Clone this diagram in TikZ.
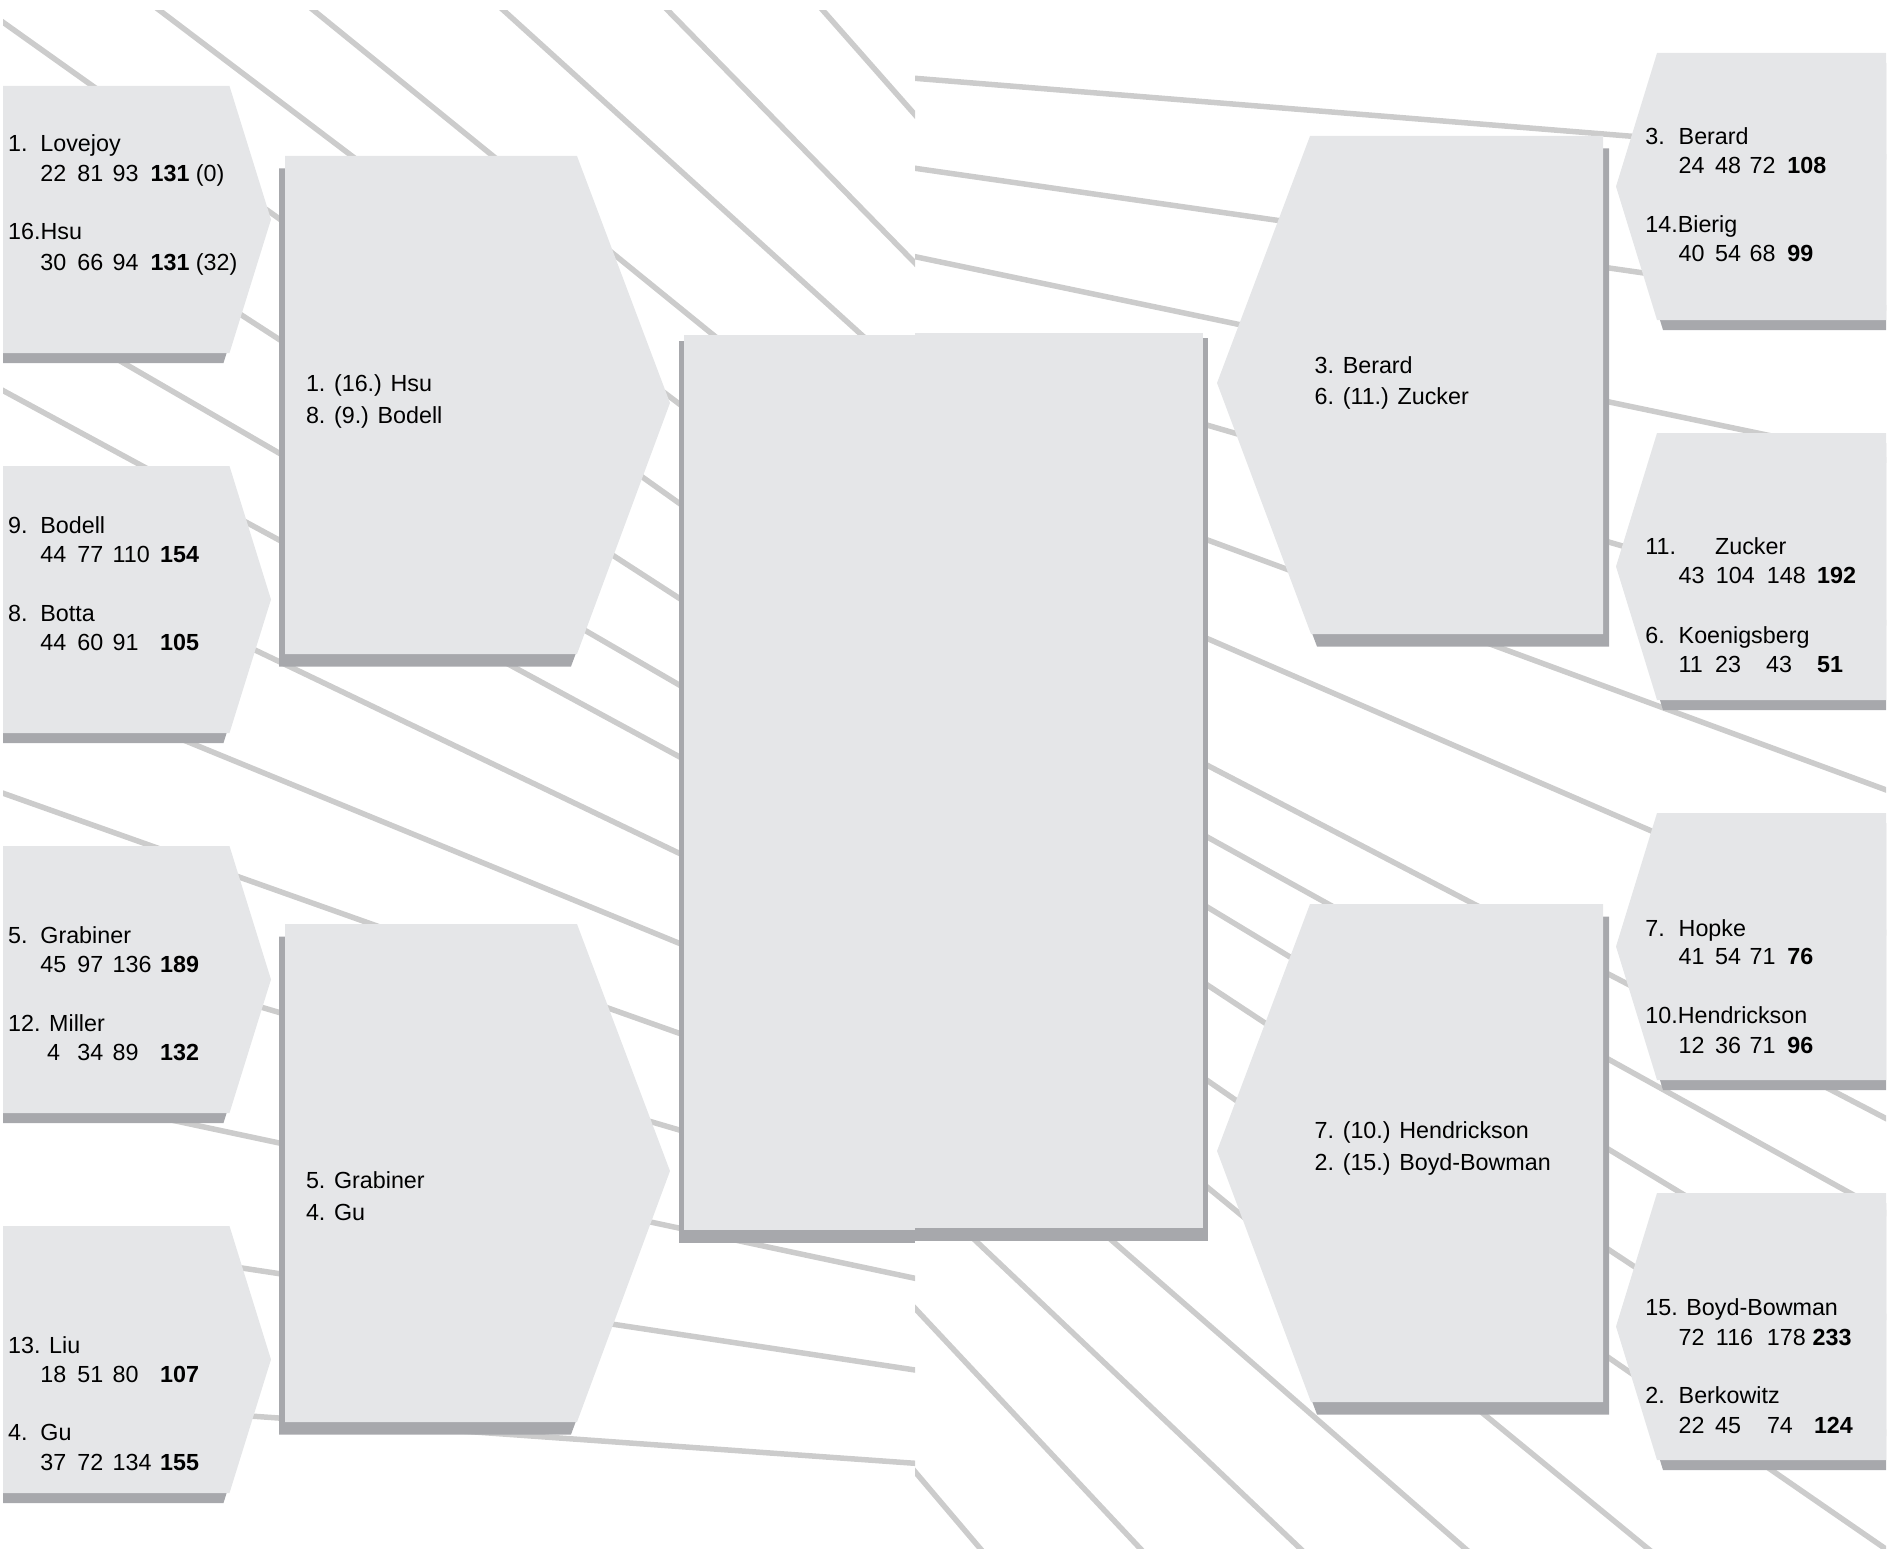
\documentclass[tikz,border=0pt]{standalone}
\usepackage{fontspec}
\setmainfont{Liberation Sans}
\definecolor{boxgray}{RGB}{229,230,232}
\definecolor{shadegray}{RGB}{167,168,172}
\definecolor{linegray}{RGB}{204,204,204}
\newcommand{\scol}[2]{\makebox[#1pt][l]{#2}}

\begin{document}
\begin{tikzpicture}[x=1pt,y=-1pt,
		bgline/.style={draw=linegray,line width=5.5pt,shorten <=-1200pt,shorten >=-1200pt},
		txt/.style={anchor=base west,inner sep=0pt,font=\fontsize{23.3}{31.7}\selectfont}]
	\useasboundingbox (0,0) rectangle (1896,1549);
	\clip (3,11) rectangle (1886,1549);
	% background stripes, left half
	\begin{scope}
		\clip (0,0) rectangle (915.2,1549);
		\draw[bgline] (3.1,22.3) -- (679.3,503.3);
		\draw[bgline] (160.7,11.2) -- (679.3,404);
		\draw[bgline] (314.7,11.2) -- (713.3,335);
		\draw[bgline] (504.5,11.2) -- (861.7,335);
		\draw[bgline] (669.1,11.7) -- (915.2,263.3);
		\draw[bgline] (824.1,11.7) -- (915.2,115);
		\draw[bgline] (241,314.7) -- (679.3,598.3);
		\draw[bgline] (122.8,362.5) -- (679.3,685);
		\draw[bgline] (3.1,390.6) -- (679.3,756.7);
		\draw[bgline] (255,650) -- (679.3,853.3);
		\draw[bgline] (190,742.7) -- (679.3,943.3);
		\draw[bgline] (3.3,793.3) -- (679.3,1033.3);
		\draw[bgline] (263.4,1007.8) -- (679.3,1130);
		\draw[bgline] (183,1122.5) -- (915,1278.3);
		\draw[bgline] (243.3,1268.2) -- (915,1370);
		\draw[bgline] (254.5,1416.3) -- (915,1463.3);
	\end{scope}
	% background stripes, right half
	\begin{scope}
		\clip (915.2,0) rectangle (1896,1549);
		\draw[bgline] (915,78.3) -- (1632,136.3);
		\draw[bgline] (915.2,168.3) -- (1608.3,267.9);
		\draw[bgline] (915.2,256.7) -- (1608.3,401.8);
		\draw[bgline] (1206.8,425) -- (1628.3,547.7);
		\draw[bgline] (1208.9,540.5) -- (1885.8,789.8);
		\draw[bgline] (1206.7,638.3) -- (1652.7,831.5);
		\draw[bgline] (1206.7,765) -- (1885.8,1118.4);
		\draw[bgline] (1206.7,836.7) -- (1843.6,1189.5);
		\draw[bgline] (1206.7,906.7) -- (1679.3,1192);
		\draw[bgline] (1208.9,986) -- (1632.7,1265.5);
		\draw[bgline] (1208.9,1081.6) -- (1885.8,1549);
		\draw[bgline] (1206.7,1186.7) -- (1648.3,1549);
		\draw[bgline] (1113.3,1241.7) -- (1400,1491.7);
		\draw[bgline] (976.7,1241.7) -- (1300,1548.3);
		\draw[bgline] (915,1308.3) -- (1140,1548.3);
		\draw[bgline] (915,1471.7) -- (980,1548.3);
	\end{scope}
	% first round boxes
	\foreach \t in {86,466,846,1226} {
		\fill[shadegray] (-10,\t+10) -- (223.5,\t+10) -- (265,\t+143.5) -- (223.5,\t+277) -- (-10,\t+277) -- cycle;
		\fill[boxgray] (-10,\t) -- (229.5,\t) -- (271,\t+133.5) -- (229.5,\t+267) -- (-10,\t+267) -- cycle;
	}
	\foreach \t in {53,433,813,1193} {
		\fill[shadegray] (1663,\t+10) -- (1622,\t+143.5) -- (1663,\t+277) -- (1900,\t+277) -- (1900,\t+10) -- cycle;
		\fill[boxgray] (1657,\t) -- (1616,\t+133.5) -- (1657,\t+267) -- (1900,\t+267) -- (1900,\t) -- cycle;
	}
	% second round boxes
	\foreach \t in {156,924} {
		\fill[shadegray] (279,\t+12.5) -- (571,\t+12.5) -- (664,\t+259.5) -- (571,\t+510.5) -- (279,\t+510.5) -- cycle;
		\fill[boxgray] (285,\t) -- (577,\t) -- (670,\t+247) -- (577,\t+498) -- (285,\t+498) -- cycle;
	}
	\foreach \t in {136,904} {
		\fill[shadegray] (1316,\t+12.5) -- (1609,\t+12.5) -- (1609,\t+510.5) -- (1317,\t+510.5) -- (1223,\t+259.5) -- cycle;
		\fill[boxgray] (1310,\t) -- (1603,\t) -- (1603,\t+498) -- (1311,\t+498) -- (1217,\t+247) -- cycle;
	}
	% final box, two halves
	\fill[shadegray] (679,341) rectangle (915.2,1243.3);
	\fill[boxgray] (684,335) rectangle (915.2,1230);
	\fill[shadegray] (915.2,338) rectangle (1207.7,1241);
	\fill[boxgray] (915.2,332.7) rectangle (1203,1228.3);
	% left entries
	\node[txt] (lov) at (8,151.8) {\scol{32.2}{1.}Lovejoy};
	\node[txt] (lovs) at (40.2,181.7) {\scol{37}{22}\scol{35.3}{81}\scol{37.9}{93}\textbf{131} (0)};
	\node[txt] (hsu) at (8,239.7) {16.Hsu};
	\node[txt] (hsus) at (40.2,270) {\scol{37}{30}\scol{35.3}{66}\scol{37.9}{94}\textbf{131} (32)};
	\node[txt] (bod) at (8,533.5) {\scol{32.2}{9.}Bodell};
	\node[txt] (bods) at (40.2,562.5) {\scol{37}{44}\scol{35.3}{77}\scol{47.5}{110}\textbf{154}};
	\node[txt] (bot) at (8,621) {\scol{32.2}{8.}Botta};
	\node[txt] (bots) at (40.2,650) {\scol{37}{44}\scol{35.3}{60}\scol{47.5}{91}\textbf{105}};
	\node[txt] (gra) at (8,943.3) {\scol{32.2}{5.}Grabiner};
	\node[txt] (gras) at (40.2,972) {\scol{37}{45}\scol{35.3}{97}\scol{47.5}{136}\textbf{189}};
	\node[txt] (mil) at (8,1031.7) {12. Miller};
	\node[txt] (mils) at (40.2,1060.4) {\scol{37}{\hspace{6.8pt}4}\scol{35.3}{34}\scol{47.5}{89}\textbf{132}};
	\node[txt] (liu) at (8,1353.3) {13. Liu};
	\node[txt] (lius) at (40.2,1382) {\scol{37}{18}\scol{35.3}{51}\scol{47.5}{80}\textbf{107}};
	\node[txt] (gu) at (8,1440.2) {\scol{32.2}{4.}Gu};
	\node[txt] (gus) at (40.2,1470.3) {\scol{37}{37}\scol{35.3}{72}\scol{47.5}{134}\textbf{155}};
	% right entries
	\node[txt] (ber) at (1645.2,145) {\scol{33.3}{3.}Berard};
	\node[txt] (bers) at (1678.5,173.6) {\scol{36.4}{24}\scol{34.6}{48}\scol{37.7}{72}\textbf{108}};
	\node[txt] (bie) at (1645.2,233) {14.Bierig};
	\node[txt] (bies) at (1678.5,261.6) {\scol{36.4}{40}\scol{34.6}{54}\scol{37.7}{68}\textbf{99}};
	\node[txt] (zuc) at (1645.2,554.8) {\scol{69.7}{11.}Zucker};
	\node[txt] (zucs) at (1678.5,583.5) {\scol{37.3}{43}\scol{51}{104}\scol{50.2}{148}\textbf{192}};
	\node[txt] (koe) at (1645.2,643.3) {\scol{33.3}{6.}Koenigsberg};
	\node[txt] (koes) at (1678.5,672) {\scol{36.4}{11}\scol{51}{23}\scol{51.1}{43}\textbf{51}};
	\node[txt] (hop) at (1645.2,936) {\scol{33.3}{7.}Hopke};
	\node[txt] (hops) at (1678.5,964.9) {\scol{36.4}{41}\scol{34.6}{54}\scol{37.7}{71}\textbf{76}};
	\node[txt] (hen) at (1645.2,1023.7) {10.Hendrickson};
	\node[txt] (hens) at (1678.5,1053.2) {\scol{36.4}{12}\scol{34.6}{36}\scol{37.7}{71}\textbf{96}};
	\node[txt] (boy) at (1645.2,1315.6) {15. Boyd-Bowman};
	\node[txt] (boys) at (1678.5,1345) {\scol{37.3}{72}\scol{51}{116}\scol{45.7}{178}\textbf{233}};
	\node[txt] (brk) at (1645.2,1403.8) {\scol{33.3}{2.}Berkowitz};
	\node[txt] (brks) at (1678.5,1433.3) {\scol{36.4}{22}\scol{51.9}{45}\scol{47}{74}\textbf{124}};
	% second round entries
	\node[txt] (q1a) at (305.8,391.5) {1. (16.) Hsu};
	\node[txt] (q1b) at (305.8,423.2) {8. (9.) Bodell};
	\node[txt] (q2a) at (305.8,1188.4) {5. Grabiner};
	\node[txt] (q2b) at (305.8,1220.4) {4. Gu};
	\node[txt] (q3a) at (1314.5,373) {3. Berard};
	\node[txt] (q3b) at (1314.5,404.6) {6. (11.) Zucker};
	\node[txt] (q4a) at (1314.5,1138.5) {7. (10.) Hendrickson};
	\node[txt] (q4b) at (1314.5,1170.9) {2. (15.) Boyd-Bowman};
\end{tikzpicture}
\end{document}
